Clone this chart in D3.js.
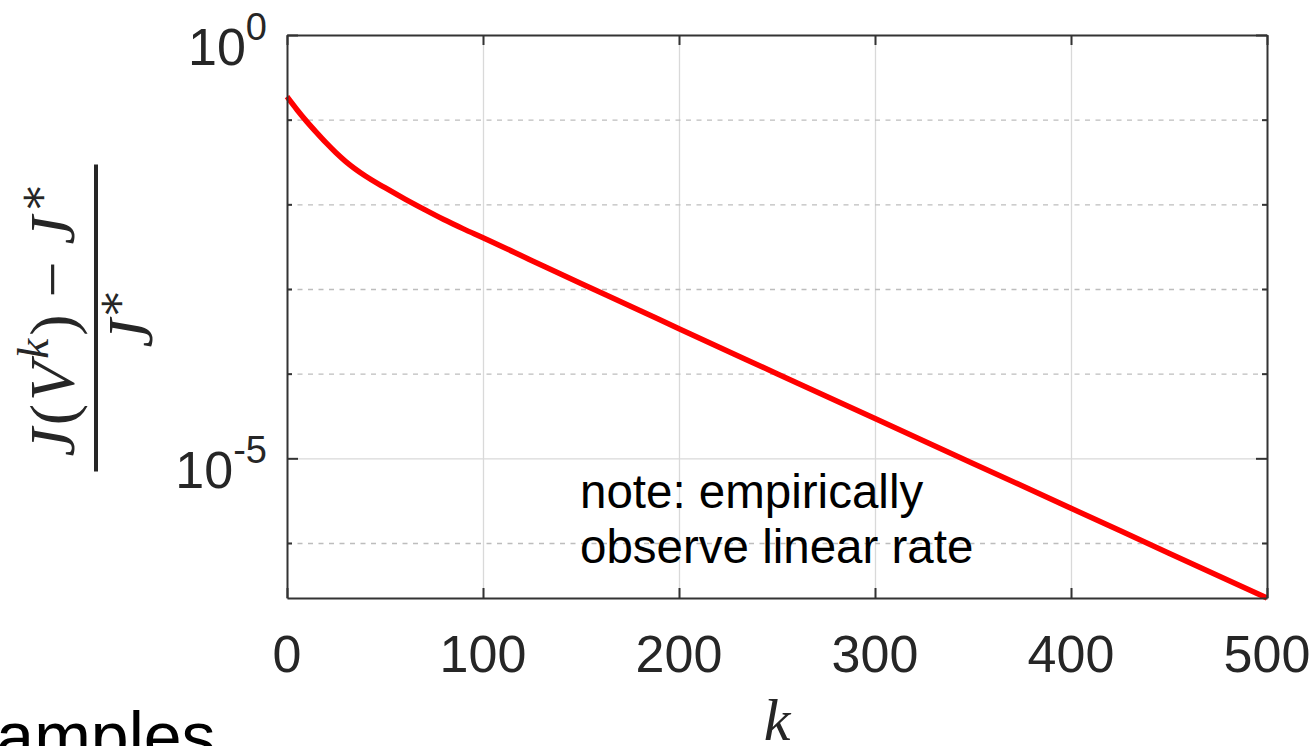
<!DOCTYPE html>
<html lang="en">
<head>
  <meta charset="UTF-8" />
  <title>Relative suboptimality vs k</title>
  <style>
    body { margin: 0; background: #fff; }
    svg { display: block; }
    .tick-label { font-family: "Liberation Sans", Arial, sans-serif; fill: #262626; }
    .grid line { stroke: #d9d9d9; stroke-width: 1.3px; }
    .grid-minor line { stroke: #bdbdbd; stroke-width: 1.3px; stroke-dasharray: 5 5.5; }
    .axis line, .axis path { stroke: #333; stroke-width: 2px; }
    .math { font-family: "Liberation Serif", "DejaVu Serif", serif; fill: #262626; }
  </style>
</head>
<body>
  <svg id="chart" width="1314" height="746"></svg>

  <script src="https://d3js.org/d3.v7.min.js"></script>
  <script>
    // iteration k and relative error (J(V^k) - J*) / J*
    const iterK = [0, 5, 10, 15, 20, 25, 30, 40, 50, 60, 70, 80, 90, 100,
                   125, 150, 175, 200, 250, 300, 350, 400, 450, 500];
    const relErr = [1.87e-1, 1.32e-1, 9.55e-2, 7.08e-2, 5.31e-2, 4.07e-2, 3.20e-2, 2.16e-2,
                    1.57e-2, 1.16e-2, 8.71e-3, 6.61e-3, 5.13e-3, 4.03e-3,
                    2.16e-3, 1.16e-3, 6.31e-4, 3.39e-4, 1.0e-4, 2.95e-5, 8.71e-6,
                    2.57e-6, 7.59e-7, 2.24e-7];

    const xTicks = [0, 100, 200, 300, 400, 500];
    const xGrid = [100, 200, 300, 400];
    const yMajorExp = [0, -5];
    const yMinorExp = [-1, -2, -3, -4, -6];
    const noteLines = ["note: empirically", "observe linear rate"];

    const svg = d3.select("#chart");
    const margin = { left: 287, right: 47, top: 35, bottom: 148 };
    const W = 1314, H = 746;
    const plotW = W - margin.left - margin.right;
    const plotH = H - margin.top - margin.bottom;

    const x = d3.scaleLinear().domain([0, 500]).range([0, plotW]);
    const y = d3.scaleLog().domain([d3.min(relErr), 1]).range([plotH, 0]);

    const g = svg.append("g").attr("transform", `translate(${margin.left},${margin.top})`);

    // grid
    g.append("g").attr("class", "grid")
      .attr("transform", `translate(0,${plotH})`)
      .call(d3.axisBottom(x).tickValues(xGrid).tickSize(-plotH).tickFormat(""))
      .call(a => a.select(".domain").remove());

    g.append("g").attr("class", "grid")
      .call(d3.axisLeft(y).tickValues([1e-5]).tickSize(-plotW).tickFormat(""))
      .call(a => a.select(".domain").remove());

    g.append("g").attr("class", "grid-minor")
      .call(d3.axisLeft(y).tickValues(yMinorExp.map(e => Math.pow(10, e))).tickSize(-plotW).tickFormat(""))
      .call(a => a.select(".domain").remove());

    // the curve
    const line = d3.line()
      .x((d, i) => x(iterK[i]))
      .y(d => y(d))
      .curve(d3.curveMonotoneX);

    g.append("path")
      .datum(relErr)
      .attr("fill", "none")
      .attr("stroke", "#ff0000")
      .attr("stroke-width", 5.5)
      .attr("d", line);

    // axes and ticks (inward)
    const yMajor = yMajorExp.map(e => Math.pow(10, e));
    const yMinor = yMinorExp.map(e => Math.pow(10, e));

    g.append("g").attr("class", "axis")
      .attr("transform", `translate(0,${plotH})`)
      .call(d3.axisBottom(x).tickValues(xTicks).tickSizeInner(-10).tickSizeOuter(0).tickFormat(""));
    g.append("g").attr("class", "axis")
      .call(d3.axisTop(x).tickValues(xTicks).tickSizeInner(-10).tickSizeOuter(0).tickFormat(""));
    g.append("g").attr("class", "axis")
      .call(d3.axisLeft(y).tickValues(yMajor).tickSizeInner(-11).tickSizeOuter(0).tickFormat(""));
    g.append("g").attr("class", "axis")
      .call(d3.axisLeft(y).tickValues(yMinor).tickSizeInner(-5).tickSizeOuter(0).tickFormat(""))
      .call(a => a.select(".domain").remove());
    g.append("g").attr("class", "axis")
      .attr("transform", `translate(${plotW},0)`)
      .call(d3.axisRight(y).tickValues(yMajor).tickSizeInner(-11).tickSizeOuter(0).tickFormat(""));
    g.append("g").attr("class", "axis")
      .attr("transform", `translate(${plotW},0)`)
      .call(d3.axisRight(y).tickValues(yMinor).tickSizeInner(-5).tickSizeOuter(0).tickFormat(""))
      .call(a => a.select(".domain").remove());

    // x tick labels
    g.append("g").selectAll("text")
      .data(xTicks)
      .join("text")
      .attr("class", "tick-label")
      .attr("x", d => x(d))
      .attr("y", plotH + 74)
      .attr("text-anchor", "middle")
      .attr("font-size", 52)
      .text(d => d);

    // y tick labels 10^e
    const yl = g.append("g").selectAll("text")
      .data(yMajorExp)
      .join("text")
      .attr("class", "tick-label")
      .attr("x", -20)
      .attr("y", d => y(Math.pow(10, d)) + 30)
      .attr("text-anchor", "end")
      .attr("font-size", 52);
    yl.append("tspan").text("10");
    yl.append("tspan").attr("font-size", 38).attr("dy", -25).text(d => d === 0 ? "0" : "-" + Math.abs(d));

    // x label
    svg.append("text")
      .attr("class", "math")
      .attr("x", margin.left + plotW / 2)
      .attr("y", 740)
      .attr("text-anchor", "middle")
      .attr("font-size", 60)
      .attr("font-style", "italic")
      .text("k");

    // y label: fraction (J(V^k) - J*) / J*
    const lab = svg.append("g").attr("transform", "translate(96,318) rotate(-90)");
    lab.append("line")
      .attr("x1", -153.5).attr("x2", 153.5)
      .attr("stroke", "#262626").attr("stroke-width", 4);

    const num = lab.append("text")
      .attr("class", "math")
      .attr("y", -22)
      .attr("text-anchor", "middle")
      .attr("font-size", 64)
      .attr("letter-spacing", 3);
    num.append("tspan").attr("font-style", "italic").text("J");
    num.append("tspan").text("(");
    num.append("tspan").attr("font-style", "italic").text("V");
    num.append("tspan").attr("font-style", "italic").attr("font-size", 45).attr("dy", -26).text("k");
    num.append("tspan").attr("dy", 26).text(")");
    num.append("tspan").attr("dx", 14).text("\u2212");
    num.append("tspan").attr("dx", 14).attr("font-style", "italic").text("J");
    num.append("tspan").attr("font-size", 45).attr("dy", -26).text("\u2217");

    const den = lab.append("text")
      .attr("class", "math")
      .attr("y", 56)
      .attr("text-anchor", "middle")
      .attr("font-size", 64);
    den.append("tspan").attr("font-style", "italic").text("J");
    den.append("tspan").attr("font-size", 45).attr("dy", -26).text("\u2217");

    // annotation
    svg.append("text")
      .attr("font-family", "Liberation Sans, Arial, sans-serif")
      .attr("font-size", 47.5)
      .attr("fill", "#000")
      .selectAll("tspan")
      .data(noteLines)
      .join("tspan")
      .attr("x", 580)
      .attr("y", (d, i) => 508 + i * 55)
      .text(d => d);

    // slide title fragment cut at the bottom-left
    svg.append("text")
      .attr("font-family", "Liberation Sans, Arial, sans-serif")
      .attr("font-size", 68)
      .attr("fill", "#000")
      .attr("x", -83)
      .attr("y", 760)
      .text("Examples");
  </script>
</body>
</html>
